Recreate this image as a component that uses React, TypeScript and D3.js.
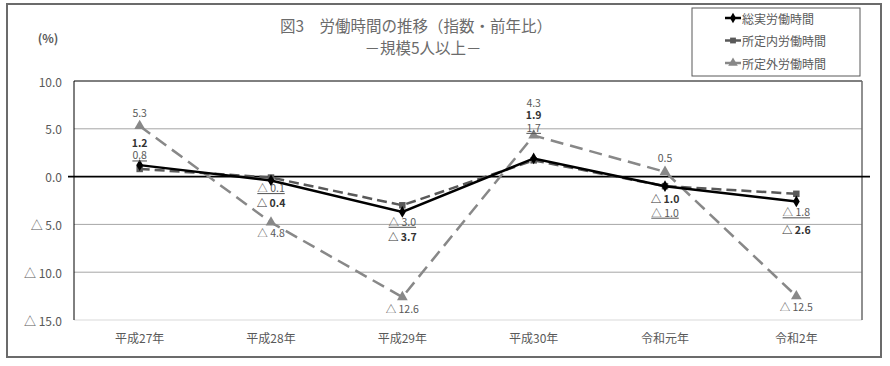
import React from "react";
import * as d3 from "d3";

const categories = ["平成27年", "平成28年", "平成29年", "平成30年", "令和元年", "令和2年"];
const totalHours = [1.2, -0.4, -3.7, 1.9, -1.0, -2.6];
const scheduledHours = [0.8, -0.1, -3.0, 1.7, -1.0, -1.8];
const overtimeHours = [5.3, -4.8, -12.6, 4.3, 0.5, -12.5];
const yTicks = [10, 5, 0, -5, -10, -15];
const seriesNames = ["総実労働時間", "所定内労働時間", "所定外労働時間"];

// label vertical offsets (px) relative to each point
const totalLabelDy = [-23, 22, 25, -44, 12, 28];
const scheduledLabelDy = [-14, 10, 16, -33, 26, 18];
const overtimeLabelDy = [-13, 10.5, 11, -33, -14, 10];

const W = 890, H = 366;
const plot = { left: 74, right: 862, top: 81, bottom: 320 };
const FONT = "'Noto Sans CJK JP', 'Noto Sans', sans-serif";

const fmt = (v: number) => (v < 0 ? "△ " + Math.abs(v).toFixed(1) : v.toFixed(1));

export default function App() {
  const x = d3.scaleBand<string>().domain(categories).range([plot.left, plot.right]);
  const cx = (c: string) => (x(c) as number) + x.bandwidth() / 2;
  const y = d3.scaleLinear().domain([-15, 10]).range([plot.bottom, plot.top]);
  const line = d3.line<number>().x((_, i) => cx(categories[i])).y((d) => y(d));

  const series = [
    { name: seriesNames[0], data: totalHours, color: "#000000", dash: "", marker: d3.symbolDiamond, msize: 40, dy: totalLabelDy, bold: true, underline: false, lc: "#333" },
    { name: seriesNames[1], data: scheduledHours, color: "#595959", dash: "10,5", marker: d3.symbolSquare, msize: 42, dy: scheduledLabelDy, bold: false, underline: true, lc: "#595959" },
    { name: seriesNames[2], data: overtimeHours, color: "#888888", dash: "13,7", marker: d3.symbolTriangle, msize: 50, dy: overtimeLabelDy, bold: false, underline: false, lc: "#595959" },
  ];
  const drawOrder = [2, 1, 0];

  return (
    <svg width={W} height={H} style={{ position: "absolute", left: 0, top: 0, background: "#fff" }} fontFamily={FONT}>
      <rect x={0} y={0} width={W} height={H} fill="#fff" />
      <rect x={7} y={4} width={874} height={353} fill="none" stroke="#6b6b6b" strokeWidth={2} />

      {/* title */}
      <text x={280} y={25} fontSize={15.5} fill="#6b6b6b" dominantBaseline="central">図3　労働時間の推移（指数・前年比）</text>
      <text x={423} y={47} fontSize={15.5} fill="#6b6b6b" textAnchor="middle" dominantBaseline="central">－規模5人以上－</text>

      {/* gridlines */}
      {yTicks.filter((t) => t !== 0 && t !== 10 && t !== -15).map((t) => (
        <line key={t} x1={plot.left} x2={plot.right} y1={y(t)} y2={y(t)} stroke="#a6a6a6" strokeWidth={1} />
      ))}
      <line x1={plot.left} x2={plot.right} y1={y(-15)} y2={y(-15)} stroke="#d9d9d9" strokeWidth={1} />
      <line x1={plot.left} x2={plot.right} y1={y(10)} y2={y(10)} stroke="#000" strokeWidth={1} />
      <line x1={plot.left} x2={plot.left} y1={y(10)} y2={y(-15)} stroke="#000" strokeWidth={1} />
      <line x1={plot.right} x2={plot.right} y1={y(10)} y2={y(-15)} stroke="#6b6b6b" strokeWidth={1.5} />
      <line x1={68} x2={870} y1={y(0)} y2={y(0)} stroke="#000" strokeWidth={1.8} />

      {/* y tick labels */}
      <text x={48} y={37} fontSize={12} fontWeight="bold" fill="#595959" textAnchor="middle" dominantBaseline="central">(%)</text>
      {yTicks.map((t) => (
        <text key={t} x={62} y={y(t)} fontSize={12} fill="#595959" textAnchor="end" dominantBaseline="central">{fmt(t)}</text>
      ))}

      {/* x labels */}
      {categories.map((c) => (
        <text key={c} x={cx(c)} y={337} fontSize={12} fill="#595959" textAnchor="middle" dominantBaseline="central">{c}</text>
      ))}

      {/* lines */}
      {drawOrder.map((k) => {
        const s = series[k];
        return (
          <g key={s.name}>
            <path d={line(s.data) as string} fill="none" stroke={s.color} strokeWidth={2.5} strokeDasharray={s.dash} />
            {s.data.map((v, i) => (
              <path key={i} d={d3.symbol().type(s.marker).size(s.msize)() as string} transform={`translate(${cx(categories[i])},${y(v)})`} fill={s.color} />
            ))}
          </g>
        );
      })}

      {/* data labels */}
      {series.map((s) => (
        <g key={s.name + "-lab"}>
          {s.data.map((v, i) => (
            <text key={i} x={cx(categories[i])} y={y(v) + s.dy[i]} fontSize={10.5} fill={s.lc} fontWeight={s.bold ? "bold" : "normal"}
              textDecoration={s.underline ? "underline" : "none"} textAnchor="middle" dominantBaseline="central">{fmt(v)}</text>
          ))}
        </g>
      ))}

      {/* legend */}
      <rect x={692} y={8} width={168} height={68} fill="#fff" stroke="#595959" strokeWidth={1} />
      {series.map((s, i) => {
        const ly = 18 + i * 22.5;
        return (
          <g key={s.name + "-leg"}>
            <line x1={725} x2={741} y1={ly} y2={ly} stroke={s.color} strokeWidth={2.5} />
            <path d={d3.symbol().type(s.marker).size(s.msize * 0.8)() as string} transform={`translate(733,${ly})`} fill={s.color} />
            <text x={742} y={ly} fontSize={12} fill="#595959" dominantBaseline="central">{s.name}</text>
          </g>
        );
      })}
    </svg>
  );
}
